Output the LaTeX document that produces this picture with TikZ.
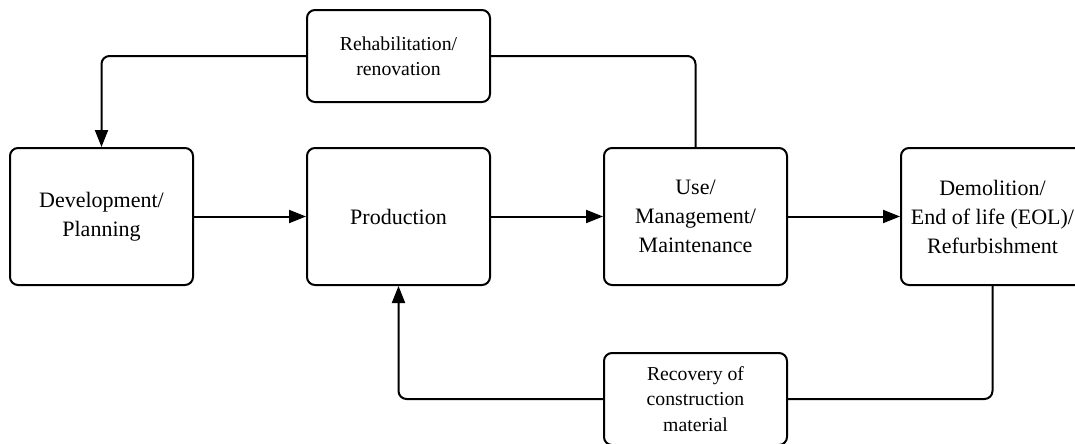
\documentclass[tikz,border=0pt]{standalone}
\usepackage{fontspec}
\setmainfont{Liberation Serif}
\usepackage{tikz}
\usetikzlibrary{arrows.meta,positioning}

\begin{document}
\begin{tikzpicture}[x=0.75pt,y=-0.75pt,
    stage/.style={draw,line width=1.5pt,rounded corners=6pt,minimum width=137.25pt,minimum height=102.75pt,align=center,font=\fontsize{16.5}{21.75}\selectfont},
    loopbox/.style={draw,line width=1.5pt,rounded corners=6pt,minimum width=137.25pt,minimum height=69pt,align=center,font=\fontsize{14.8}{19}\selectfont},
    link/.style={line width=1.5pt,rounded corners=6pt},
    flow/.style={link,-{Triangle[length=12.75pt,width=9.75pt]}}]
    \useasboundingbox (0,0) rectangle (1075,443);
    \node[stage] (dev)   at (101.5,216.5) {Development/\\Planning};
    \node[stage] (prod)  at (398.5,216.5) {Production};
    \node[stage] (use)   at (695.5,216.5) {Use/\\Management/\\Maintenance};
    \node[stage] (demo)  at (992.5,216.5) {Demolition/\\End of life (EOL)/\\Refurbishment};
    \node[loopbox] (rehab) at (398.5,56) {Rehabilitation/\\renovation};
    \node[loopbox] (recov) at (695.5,399) {Recovery of\\construction\\material};
    % main flow
    \draw[flow] (dev) -- (prod);
    \draw[flow] (prod) -- (use);
    \draw[flow] (use) -- (demo);
    % feedback loops
    \draw[link] (use.north) |- (rehab.east);
    \draw[flow] (rehab.west) -| (dev.north);
    \draw[link] (demo.south) |- (recov.east);
    \draw[flow] (recov.west) -| (prod.south);
\end{tikzpicture}
\end{document}
